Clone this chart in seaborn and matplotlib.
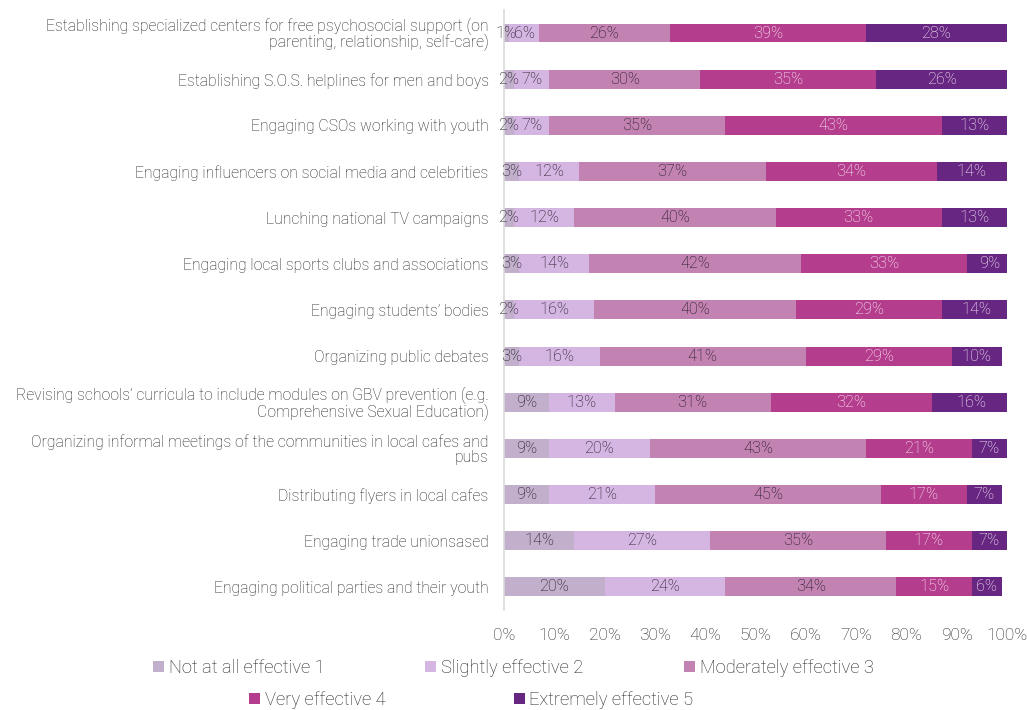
import matplotlib
matplotlib.use("Agg")
import matplotlib.pyplot as plt
from matplotlib.patches import Patch
import numpy as np
import pandas as pd
import seaborn as sns

sns.set_theme(style="white")
plt.rcParams["font.family"] = ["Roboto", "DejaVu Sans"]
plt.rcParams["font.weight"] = "light"

# Survey measures (top to bottom)
measures = [
    "Establishing specialized centers for free psychosocial support (on\nparenting, relationship, self-care)",
    "Establishing S.O.S. helplines for men and boys",
    "Engaging CSOs working with youth",
    "Engaging influencers on social media and celebrities",
    "Lunching national TV campaigns",
    "Engaging local sports clubs and associations",
    "Engaging students\u2019 bodies",
    "Organizing public debates",
    "Revising schools\u2019 curricula to include modules on GBV prevention (e.g.\nComprehensive Sexual Education)",
    "Organizing informal meetings of the communities in local cafes and\npubs",
    "Distributing flyers in local cafes",
    "Engaging trade unionsased",
    "Engaging political parties and their youth",
]

# Share of respondents (%) per rating level
not_at_all = [1, 2, 2, 3, 2, 3, 2, 3, 9, 9, 9, 14, 20]
slightly = [6, 7, 7, 12, 12, 14, 16, 16, 13, 20, 21, 27, 24]
moderately = [26, 30, 35, 37, 40, 42, 40, 41, 31, 43, 45, 35, 34]
very = [39, 35, 43, 34, 33, 33, 29, 29, 32, 21, 17, 17, 15]
extremely = [28, 26, 13, 14, 13, 9, 14, 10, 16, 7, 7, 7, 6]

levels = ["Not at all effective 1", "Slightly effective 2", "Moderately effective 3",
          "Very effective 4", "Extremely effective 5"]
colors = ["#c1afcc", "#d5b6e3", "#c282b2", "#b43e8d", "#662682"]
text_colors = ["#1c141d", "#1c141d", "#1c141d", "#fdf2fa", "#fdf2fa"]
x_ticks = [0, 10, 20, 30, 40, 50, 60, 70, 80, 90, 100]
ink = "#222222"

series = [not_at_all, slightly, moderately, very, extremely]
values = np.array(series, dtype=float)
cum = np.cumsum(values, axis=0)
starts = cum - values

fig = plt.figure(figsize=(10.27, 7.10), dpi=100)
ax = fig.add_axes([0.4907, 0.141, 0.4898, 0.845])

# Stacked bars: draw cumulative totals from the outermost level inward
for i in range(len(levels) - 1, -1, -1):
    df = pd.DataFrame({"measure": measures, "value": cum[i]})
    sns.barplot(data=df, x="value", y="measure", orient="h", color=colors[i],
                width=0.41, saturation=1, ax=ax, linewidth=0, order=measures)

# Segment value labels
for i in range(len(levels)):
    for j in range(len(measures)):
        ax.text(starts[i, j] + values[i, j] / 2, j, f"{int(values[i, j])}%",
                ha="center", va="center", fontsize=11.8, color=text_colors[i],
                fontweight="light")

ax.set_xlim(0, 100)
ax.set_ylim(len(measures) - 0.5, -0.5)
ax.set_xticks(x_ticks)
ax.set_xticklabels([f"{t}%" for t in x_ticks], fontsize=12.5, color=ink)
ax.tick_params(axis="x", length=0, pad=13)
ax.tick_params(axis="y", length=0, pad=11, labelsize=11.3, labelcolor=ink)
ax.set_xlabel("")
ax.set_ylabel("")
for lbl in ax.get_yticklabels():
    lbl.set_fontweight("light")
    lbl.set_linespacing(0.95)
for lbl in ax.get_xticklabels():
    lbl.set_fontweight("light")
for side in ["top", "right", "bottom"]:
    ax.spines[side].set_visible(False)
ax.spines["left"].set_color("#d9d9d9")
ax.spines["left"].set_linewidth(1.2)
ax.grid(False)

handles = [Patch(facecolor=c, edgecolor="none") for c in colors]
leg_kw = dict(frameon=False, handlelength=0.6, handleheight=0.6,
              handletextpad=0.25, prop={"size": 13.2, "weight": "light"},
              labelcolor=ink, borderaxespad=0, borderpad=0)
leg1 = fig.legend(handles[:3], levels[:3], loc="center", ncol=3,
                  bbox_to_anchor=(0.5, 0.059), columnspacing=5.5, **leg_kw)
leg2 = fig.legend(handles[3:], levels[3:], loc="center", ncol=2,
                  bbox_to_anchor=(0.459, 0.014), columnspacing=7.0, **leg_kw)

fig.savefig("out.png", dpi=100)
